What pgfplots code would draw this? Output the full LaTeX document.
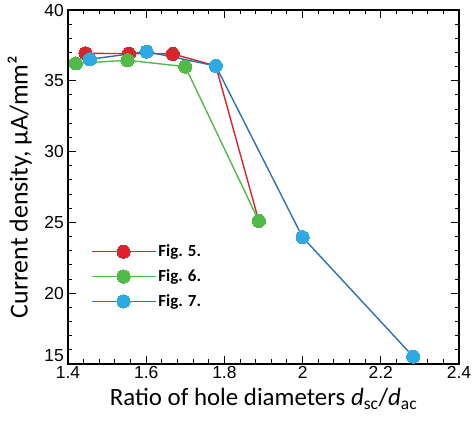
\documentclass[border=0pt]{standalone}
\usepackage{fontspec}
\setmainfont{Carlito}
\newfontfamily\tickfont{Liberation Sans}
\usepackage{pgfplots}
\pgfplotsset{compat=1.18}

\definecolor{cRed}{RGB}{214,38,44}
\definecolor{cGreen}{RGB}{82,186,72}
\definecolor{cBlueLine}{RGB}{44,112,182}
\definecolor{cBlueMark}{RGB}{46,170,226}

\begin{document}
\begin{tikzpicture}
\begin{axis}[
  name=ax,
  scale only axis,
  width=391bp, height=354bp,
  xmin=1.4, xmax=2.4, ymin=15, ymax=40,
  xtick={1.4,1.6,...,2.4},
  ytick={15,20,...,40},
  yticklabels={\raisebox{3bp}[0pt][0pt]{15},20,25,30,35,40},
  minor x tick num=4,
  minor y tick num=4,
  tick align=inside,
  major tick length=8bp,
  minor tick length=4.5bp,
  axis line style={line width=2.2bp},
  every tick/.style={black, line width=1bp},
  /pgf/number format/assume math mode=true,
  xticklabel style={font=\tickfont\fontsize{17.5}{17.5}\selectfont, /pgf/number format/fixed, inner sep=1bp, yshift=-1bp},
  yticklabel style={font=\tickfont\fontsize{17.5}{17.5}\selectfont, inner sep=1bp, xshift=-3bp},
  xlabel={Ratio of hole diameters \textit{d}\textsubscript{sc}/\textit{d}\textsubscript{ac}},
  ylabel={Current density, µA/mm²},
  xlabel style={font=\fontsize{25}{25}\selectfont, yshift=-5bp},
  ylabel style={font=\fontsize{26}{26}\selectfont, yshift=8bp},
  every axis plot/.append style={line width=1.4bp},
  legend style={draw=none, fill=none, at={(rel axis cs:0.05,0.348)}, anchor=north west,
    font=\bfseries\fontsize{17}{17}\selectfont, row sep=7.5bp},
  legend cell align=left,
  legend image code/.code={\draw[line width=1.6bp, mark repeat=2,mark phase=2,#1] plot coordinates {(0bp,0bp) (32bp,0bp) (64bp,0bp)};},
]
\addplot[cRed, mark=*, mark size=6.6bp, mark options={fill=cRed, draw=cRed, line width=0pt}]
  coordinates {(1.445,36.94) (1.556,36.92) (1.668,36.90) (1.778,36.05) (1.888,25.10)};
\addlegendentry{Fig. 5.}
\addplot[cGreen, mark=*, mark size=6.6bp, mark options={fill=cGreen, draw=cGreen, line width=0pt}]
  coordinates {(1.420,36.23) (1.552,36.45) (1.700,36.00) (1.888,25.10)};
\addlegendentry{Fig. 6.}
\addplot[cBlueLine, mark=*, mark size=6.6bp, mark options={fill=cBlueMark, draw=cBlueMark, line width=0pt}]
  coordinates {(1.456,36.52) (1.601,37.06) (1.778,36.05) (2.000,23.95) (2.283,15.52)};
\addlegendentry{Fig. 7.}
\end{axis}
\pgfresetboundingbox
\path (ax.south west) ++(-68bp,-59bp) rectangle ++(472bp,423bp);
\end{tikzpicture}
\end{document}
